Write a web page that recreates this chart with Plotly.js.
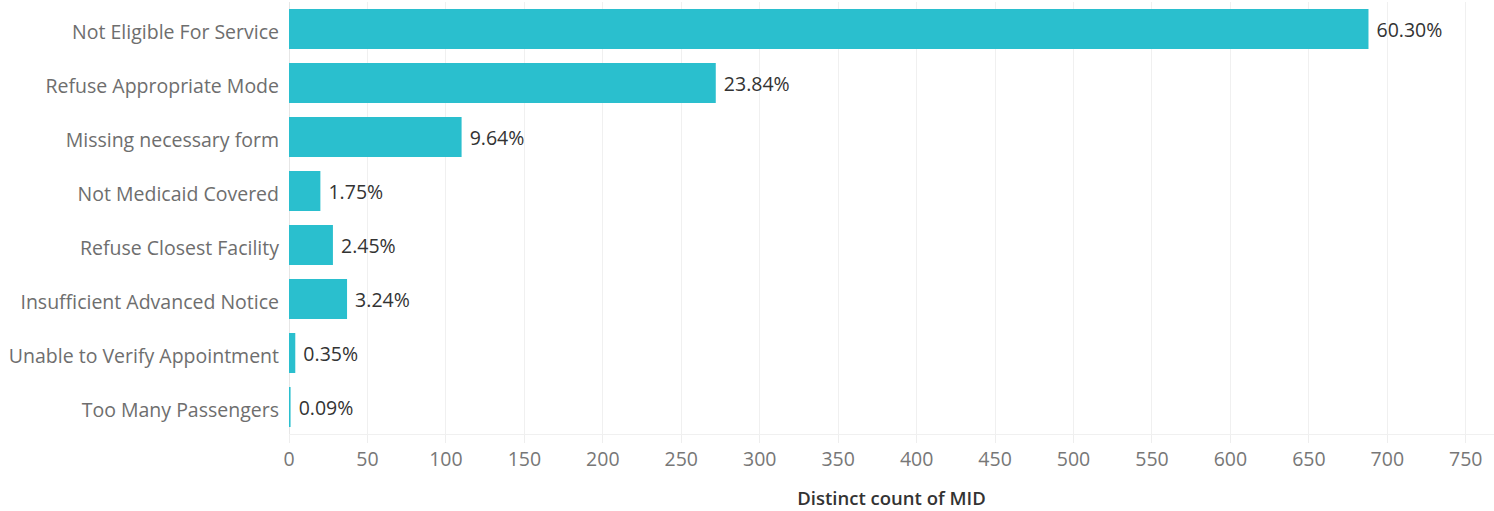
<!DOCTYPE html>
<html>
<head>
<meta charset="utf-8">
<script src="https://cdn.plot.ly/plotly-3.0.1.min.js"></script>
<style>html,body{margin:0;padding:0;background:#fff;}#chart{width:1494px;height:511px;}</style>
</head>
<body>
<div id="chart"></div>
<script>
const categories = [
  "Not Eligible For Service",
  "Refuse Appropriate Mode",
  "Missing necessary form",
  "Not Medicaid Covered",
  "Refuse Closest Facility",
  "Insufficient Advanced Notice",
  "Unable to Verify Appointment",
  "Too Many Passengers"
];
const counts = [688, 272, 110, 20, 28, 37, 4, 1];
const percentLabels = ["60.30%", "23.84%", "9.64%", "1.75%", "2.45%", "3.24%", "0.35%", "0.09%"];
const xTickValues = [0, 50, 100, 150, 200, 250, 300, 350, 400, 450, 500, 550, 600, 650, 700, 750];

const FONT = "'Open Sans', Lato, sans-serif";

const trace = {
  type: "bar",
  orientation: "h",
  y: categories,
  x: counts,
  text: percentLabels,
  texttemplate: " %{text}",
  textposition: "outside",
  cliponaxis: false,
  textfont: {family: FONT, size: 19.5, color: "#333333"},
  marker: {color: "#2abfce"},
  width: 0.74,
  hoverinfo: "none"
};

const layout = {
  width: 1494,
  height: 511,
  margin: {l: 289, r: 0, t: 2, b: 77, pad: 0},
  paper_bgcolor: "#ffffff",
  plot_bgcolor: "#ffffff",
  showlegend: false,
  font: {family: FONT, size: 19.5, color: "#777777"},
  xaxis: {
    range: [0, 768],
    tickvals: xTickValues,
    ticks: "outside",
    ticklen: 8,
    tickcolor: "#eeeeee",
    tickfont: {size: 19.5, color: "#777777"},
    showgrid: true,
    gridcolor: "#f0f0f0",
    gridwidth: 1,
    zeroline: true,
    zerolinecolor: "#e6e6e6",
    showline: true,
    linecolor: "#f0f0f0",
    title: {text: "Distinct count of MID", font: {size: 18.5, color: "#333333", family: FONT, weight: 600}, standoff: 20},
    fixedrange: true
  },
  yaxis: {
    autorange: "reversed",
    showgrid: false,
    ticks: "",
    ticklabelstandoff: 9,
    ticklabelshift: -3,
    tickfont: {size: 19.5, color: "#6e6e6e"},
    showline: false,
    fixedrange: true
  },
  bargap: 0.26
};

Plotly.newPlot("chart", [trace], layout, {displayModeBar: false, staticPlot: true});
</script>
</body>
</html>
